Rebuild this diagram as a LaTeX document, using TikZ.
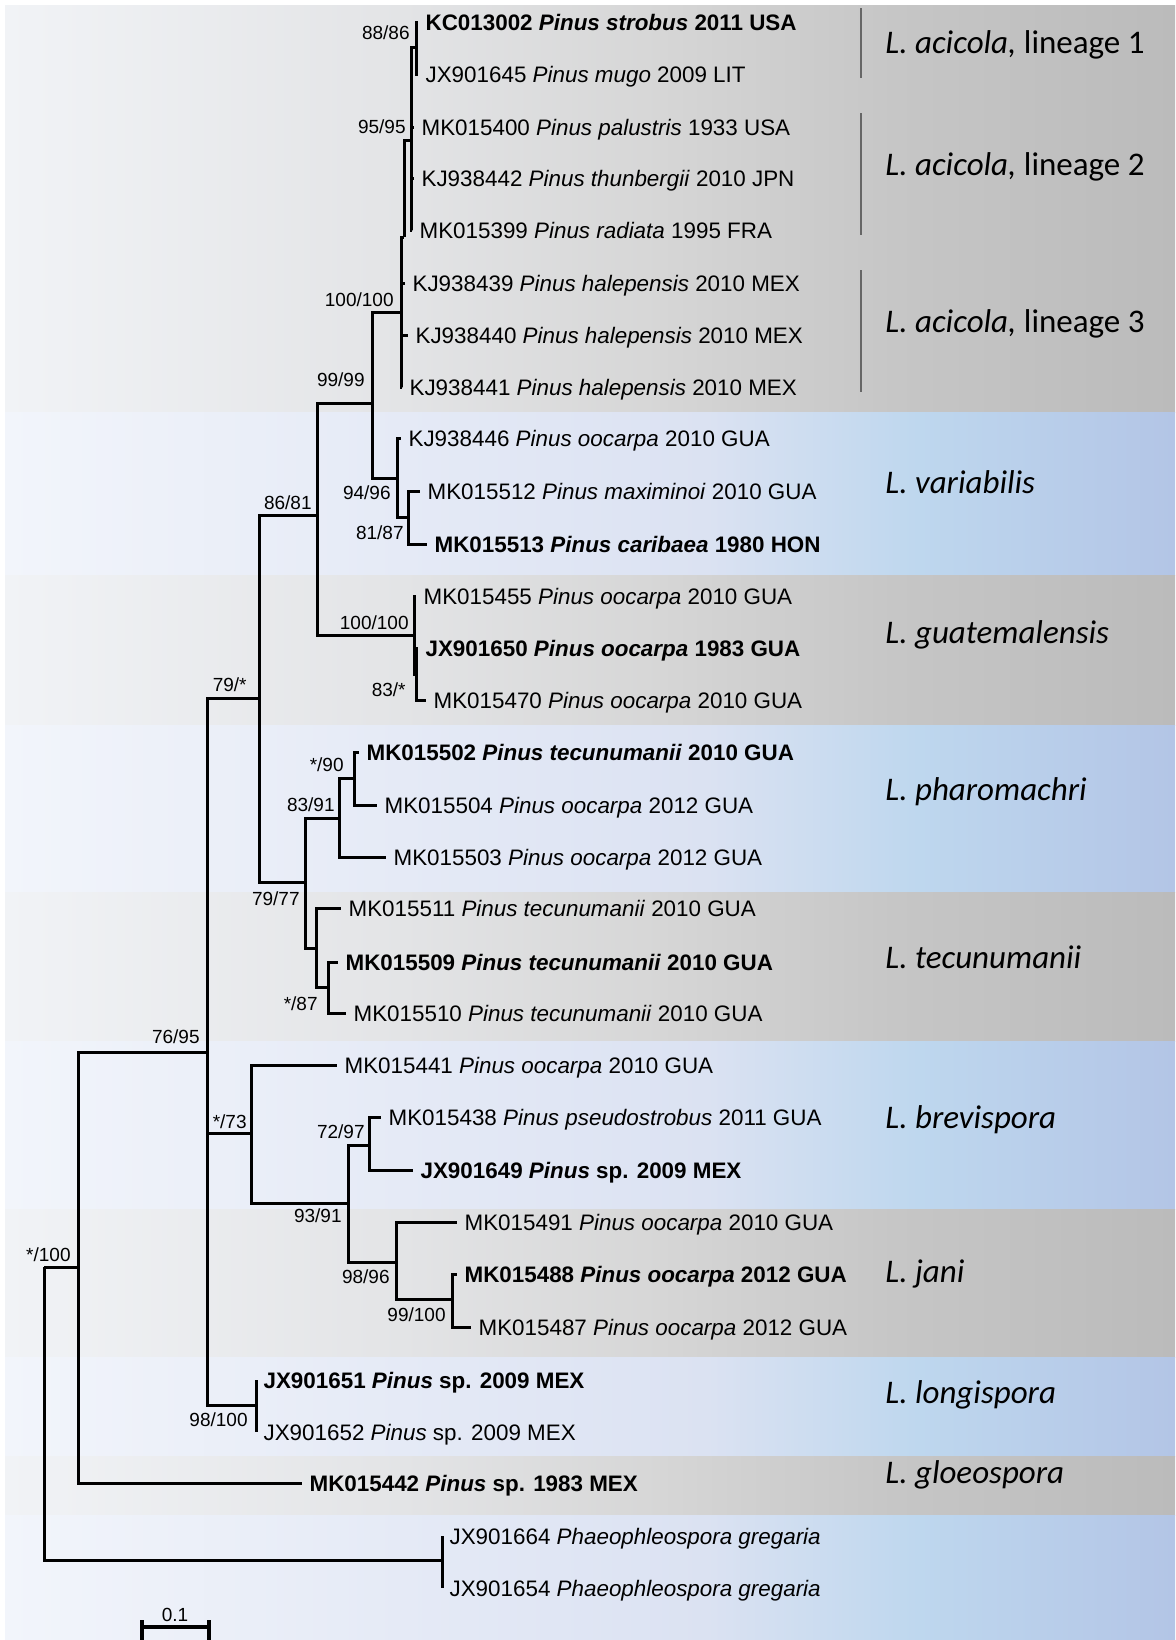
\documentclass[tikz,border=0pt]{standalone}
\usepackage{fontspec}
\setmainfont{Liberation Sans}
\newfontfamily\cladefont{Carlito}
\definecolor{gA}{HTML}{F1F3F6}
\definecolor{gB}{HTML}{E3E4E6}
\definecolor{gC}{HTML}{D6D6D6}
\definecolor{gD}{HTML}{C6C6C6}
\definecolor{gE}{HTML}{BBBBBB}
\definecolor{bA}{HTML}{F2F5FB}
\definecolor{bB}{HTML}{E5EAF6}
\definecolor{bC}{HTML}{DBE2F2}
\definecolor{bD}{HTML}{BED7EE}
\definecolor{bE}{HTML}{B3C5E6}
\pgfdeclarehorizontalshading{greyband}{100bp}{color(0bp)=(gA); color(25bp)=(gA); color(42bp)=(gB); color(53bp)=(gC); color(63bp)=(gD); color(75bp)=(gE); color(100bp)=(gE)}
\pgfdeclarehorizontalshading{blueband}{100bp}{color(0bp)=(bA); color(25bp)=(bA); color(42bp)=(bB); color(55bp)=(bC); color(64bp)=(bD); color(75bp)=(bE); color(100bp)=(bE)}
\begin{document}
\begin{tikzpicture}
	[x=0.5pt, y=-0.5pt,
	branch/.style={line width=1.5pt, line join=miter},
	leaf/.style={anchor=west, inner xsep=3.6pt, inner ysep=0pt, text height=8pt, text depth=0pt, font=\fontsize{11.2}{13}\selectfont},
	bleaf/.style={leaf, font=\fontsize{11.2}{13}\selectfont\bfseries},
	sup/.style={anchor=east, inner sep=0pt, text height=6.8pt, text depth=0pt, font=\fontsize{9.5}{11}\selectfont},
	clade/.style={anchor=base west, inner sep=0pt, font=\cladefont\fontsize{16.5}{19}\selectfont},
	bracket/.style={line width=0.6pt, draw=black!60}]
	\useasboundingbox (0,0) rectangle (1175,1640);
	\fill[white] (0,0) rectangle (1175,1640);
	\shade[shading=greyband] (5,5) rectangle (1175,412);
	\shade[shading=blueband] (5,412) rectangle (1175,575);
	\shade[shading=greyband] (5,575) rectangle (1175,725);
	\shade[shading=blueband] (5,725) rectangle (1175,892);
	\shade[shading=greyband] (5,892) rectangle (1175,1041);
	\shade[shading=blueband] (5,1041) rectangle (1175,1209);
	\shade[shading=greyband] (5,1209) rectangle (1175,1357);
	\shade[shading=blueband] (5,1357) rectangle (1175,1456);
	\shade[shading=greyband] (5,1456) rectangle (1175,1515);
	\shade[shading=blueband] (5,1515) rectangle (1175,1640);

	\node[bleaf] (kc013002) at (418,22) {KC013002 \textit{Pinus strobus} 2011 USA};
	\node[leaf] (jx901645) at (418,74) {JX901645 \textit{Pinus mugo} 2009 LIT};
	\node[leaf] (mk015400) at (414,127) {MK015400 \textit{Pinus palustris} 1933 USA};
	\node[leaf] (kj938442) at (414,178) {KJ938442 \textit{Pinus thunbergii} 2010 JPN};
	\node[leaf] (mk015399) at (412,230) {MK015399 \textit{Pinus radiata} 1995 FRA};
	\node[leaf] (kj938439) at (405,283) {KJ938439 \textit{Pinus halepensis} 2010 MEX};
	\node[leaf] (kj938440) at (408,335) {KJ938440 \textit{Pinus halepensis} 2010 MEX};
	\node[leaf] (kj938441) at (402,387) {KJ938441 \textit{Pinus halepensis} 2010 MEX};
	\node[leaf] (kj938446) at (401,438) {KJ938446 \textit{Pinus oocarpa} 2010 GUA};
	\node[leaf] (mk015512) at (420,491) {MK015512 \textit{Pinus maximinoi} 2010 GUA};
	\node[bleaf] (mk015513) at (427,544) {MK015513 \textit{Pinus caribaea} 1980 HON};
	\node[leaf] (mk015455) at (416,596) {MK015455 \textit{Pinus oocarpa} 2010 GUA};
	\node[bleaf] (jx901650) at (418,648) {JX901650 \textit{Pinus oocarpa} 1983 GUA};
	\node[leaf] (mk015470) at (426,700) {MK015470 \textit{Pinus oocarpa} 2010 GUA};
	\node[bleaf] (mk015502) at (359,752) {MK015502 \textit{Pinus tecunumanii} 2010 GUA};
	\node[leaf] (mk015504) at (377,805) {MK015504 \textit{Pinus oocarpa} 2012 GUA};
	\node[leaf] (mk015503) at (386,857) {MK015503 \textit{Pinus oocarpa} 2012 GUA};
	\node[leaf] (mk015511) at (341,908) {MK015511 \textit{Pinus tecunumanii} 2010 GUA};
	\node[bleaf] (mk015509) at (338,962) {MK015509 \textit{Pinus tecunumanii} 2010 GUA};
	\node[leaf] (mk015510) at (346,1013) {MK015510 \textit{Pinus tecunumanii} 2010 GUA};
	\node[leaf] (mk015441) at (337,1065) {MK015441 \textit{Pinus oocarpa} 2010 GUA};
	\node[leaf] (mk015438) at (381,1117) {MK015438 \textit{Pinus pseudostrobus} 2011 GUA};
	\node[bleaf] (jx901649) at (413,1170) {JX901649 \textit{Pinus} sp. 2009 MEX};
	\node[leaf] (mk015491) at (457,1222) {MK015491 \textit{Pinus oocarpa} 2010 GUA};
	\node[bleaf] (mk015488) at (457,1274) {MK015488 \textit{Pinus oocarpa} 2012 GUA};
	\node[leaf] (mk015487) at (471,1327) {MK015487 \textit{Pinus oocarpa} 2012 GUA};
	\node[bleaf] (jx901651) at (256,1380) {JX901651 \textit{Pinus} sp. 2009 MEX};
	\node[leaf] (jx901652) at (256,1432) {JX901652 \textit{Pinus} sp. 2009 MEX};
	\node[bleaf] (mk015442) at (302,1483) {MK015442 \textit{Pinus} sp. 1983 MEX};
	\node[leaf] (jx901664) at (442,1536) {JX901664 \textit{Phaeophleospora gregaria}};
	\node[leaf] (jx901654) at (442,1588) {JX901654 \textit{Phaeophleospora gregaria}};

	\coordinate (root) at (44,1267);
	\coordinate (outgrp) at (442,1560);
	\coordinate (ingrp) at (78,1267);
	\coordinate (n7695) at (207,1052);
	\coordinate (n79) at (259,698);
	\coordinate (n8681) at (317,515);
	\coordinate (n9999) at (372,403);
	\coordinate (nacic) at (401,312);
	\coordinate (n12) at (404,237);
	\coordinate (n9595) at (411,140);
	\coordinate (n8886) at (416,47);
	\coordinate (nvar) at (397,478);
	\coordinate (n8187) at (408,517);
	\coordinate (nguat) at (414,635);
	\coordinate (n83) at (416,674);
	\coordinate (n7977) at (305,882);
	\coordinate (n8391) at (339,818);
	\coordinate (n90) at (354,778);
	\coordinate (ntec) at (316,948);
	\coordinate (n87) at (328,987);
	\coordinate (n73) at (251,1133);
	\coordinate (n9391) at (348,1203);
	\coordinate (n7297) at (369,1145);
	\coordinate (n9896) at (396,1262);
	\coordinate (n99100) at (452,1299);
	\coordinate (n98100) at (256,1405);

	\draw[branch] (root) |- (ingrp) (root) |- (outgrp);
	\draw[branch] (outgrp) |- (jx901664.west) (outgrp) |- (jx901654.west);
	\draw[branch] (ingrp) |- (n7695) (ingrp) |- (mk015442.west);
	\draw[branch] (n7695) |- (n79) (n7695) |- (n73) (n7695) |- (n98100);
	\draw[branch] (n98100) |- (jx901651.west) (n98100) |- (jx901652.west);
	\draw[branch] (n79) |- (n8681) (n79) |- (n7977);
	\draw[branch] (n8681) |- (n9999) (n8681) |- (nguat);
	\draw[branch] (n9999) |- (nacic) (n9999) |- (nvar);
	\draw[branch] (nacic) |- (n12) (nacic) |- (kj938439.west) (nacic) |- (kj938440.west) (nacic) |- (kj938441.west);
	\draw[branch] (n12) |- (n9595);
	\draw[branch] (n9595) |- (n8886) (n9595) |- (mk015400.west) (n9595) |- (kj938442.west) (n9595) |- (mk015399.west);
	\draw[branch] (n8886) |- (kc013002.west) (n8886) |- (jx901645.west);
	\draw[branch] (nvar) |- (kj938446.west) (nvar) |- (n8187);
	\draw[branch] (n8187) |- (mk015512.west) (n8187) |- (mk015513.west);
	\draw[branch] (nguat) |- (mk015455.west) (nguat) |- (n83);
	\draw[branch] (n83) |- (jx901650.west) (n83) |- (mk015470.west);
	\draw[branch] (n7977) |- (n8391) (n7977) |- (ntec);
	\draw[branch] (n8391) |- (n90) (n8391) |- (mk015503.west);
	\draw[branch] (n90) |- (mk015502.west) (n90) |- (mk015504.west);
	\draw[branch] (ntec) |- (mk015511.west) (ntec) |- (n87);
	\draw[branch] (n87) |- (mk015509.west) (n87) |- (mk015510.west);
	\draw[branch] (n73) |- (mk015441.west) (n73) |- (n9391);
	\draw[branch] (n9391) |- (n7297) (n9391) |- (n9896);
	\draw[branch] (n7297) |- (mk015438.west) (n7297) |- (jx901649.west);
	\draw[branch] (n9896) |- (mk015491.west) (n9896) |- (n99100);
	\draw[branch] (n99100) |- (mk015488.west) (n99100) |- (mk015487.west);

	\node[sup] (s8886) at (410,33) {88/86};
	\node[sup] (s9595) at (406,127) {95/95};
	\node[sup] (sacic) at (394,300) {100/100};
	\node[sup] (s9999) at (365,380) {99/99};
	\node[sup] (s8681) at (312,503) {86/81};
	\node[sup] (s9496) at (391,493) {94/96};
	\node[sup] (s8187) at (404,533) {81/87};
	\node[sup] (sguat) at (409,623) {100/100};
	\node[sup] (s83) at (406,690) {83/*};
	\node[sup] (s79) at (247,685) {79/*};
	\node[sup] (s90) at (344,765) {*/90};
	\node[sup] (s8391) at (335,805) {83/91};
	\node[sup] (s7977) at (300,899) {79/77};
	\node[sup] (s87) at (318,1004) {*/87};
	\node[sup] (s7695) at (200,1037) {76/95};
	\node[sup] (s73) at (247,1122) {*/73};
	\node[sup] (s7297) at (365,1132) {72/97};
	\node[sup] (s9391) at (342,1216) {93/91};
	\node[sup] (s9896) at (390,1277) {98/96};
	\node[sup] (s99100) at (446,1315) {99/100};
	\node[sup] (s98100) at (248,1420) {98/100};
	\node[sup] (sroot) at (71,1255) {*/100};

	\draw[bracket] (861,8) -- (861,78);
	\draw[bracket] (861,113) -- (861,235);
	\draw[bracket] (861,270) -- (861,392);
	\node[clade] (lin1) at (885,53) {\textit{L. acicola,} lineage 1};
	\node[clade] (lin2) at (885,175) {\textit{L. acicola,} lineage 2};
	\node[clade] (lin3) at (885,332) {\textit{L. acicola,} lineage 3};
	\node[clade] (variab) at (885,493) {\textit{L. variabilis}};
	\node[clade] (guatem) at (885,643) {\textit{L. guatemalensis}};
	\node[clade] (pharom) at (885,800) {\textit{L. pharomachri}};
	\node[clade] (tecunu) at (885,968) {\textit{L. tecunumanii}};
	\node[clade] (brevis) at (885,1128) {\textit{L. brevispora}};
	\node[clade] (jani) at (885,1282) {\textit{L. jani}};
	\node[clade] (longis) at (885,1403) {\textit{L. longispora}};
	\node[clade] (gloeos) at (885,1483) {\textit{L. gloeospora}};

	\coordinate (sb1) at (142,1627);
	\coordinate (sb2) at (209,1627);
	\draw[line width=2pt] (sb1) -- (sb2);
	\draw[line width=2pt] (sb1) ++(0,-7) -- ++(0,20) (sb2) ++(0,-7) -- ++(0,20);
	\node[sup, anchor=center] (sblab) at (175,1615) {0.1};
\end{tikzpicture}
\end{document}
